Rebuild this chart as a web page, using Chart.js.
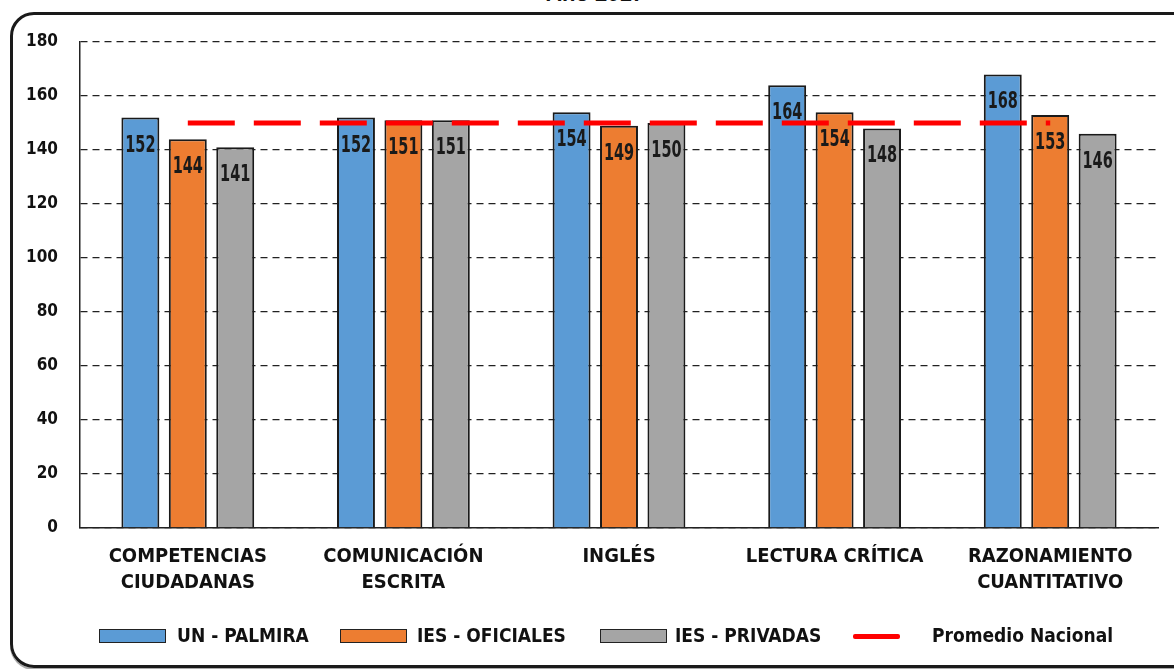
<!DOCTYPE html>
<html>
<head>
<meta charset="utf-8">
<script src="https://cdn.jsdelivr.net/npm/chart.js@4/dist/chart.umd.min.js"></script>
<style>
  body { margin:0; background:#fff; overflow:hidden; }
  #wrap { position:relative; width:1174px; height:669px; overflow:hidden; }
  #frame { position:absolute; left:10px; top:12px; width:1190px; height:650px;
           border:3px solid #1a1a1a; border-radius:24px; box-shadow:0 2px 0 #aaa; }
  #title { position:absolute; left:0; width:1190px; top:-19px; text-align:center;
           font:bold 22px "Liberation Sans", Arial, sans-serif; color:#111; }
  canvas { position:absolute; left:0; top:0; }
  .lg { position:absolute; top:624px; font:bold 19px "DejaVu Sans Condensed", sans-serif; color:#111; white-space:nowrap; line-height:22px; }
  .box { position:absolute; top:629px; width:65px; height:12px; border:1.5px solid #222; }
  .ln { position:absolute; top:634px; width:47px; height:5px; background:#ff0000; border-radius:2px; }
</style>
</head>
<body>
<div id="wrap">
  <div id="frame"></div>
  <div id="title">Año 2017</div>
  <canvas id="c" width="1174" height="669"></canvas>
  <div id="legend"></div>
</div>
<script>
const categories = [
  ["COMPETENCIAS", "CIUDADANAS"],
  ["COMUNICACIÓN", "ESCRITA"],
  ["INGLÉS"],
  ["LECTURA CRÍTICA"],
  ["RAZONAMIENTO", "CUANTITATIVO"]
];
const unPalmira = [152, 152, 154, 164, 168];
const iesOficiales = [144, 151, 149, 154, 153];
const iesPrivadas = [141, 151, 150, 148, 146];
const promedioNacional = [150, 150, 150, 150, 150];
const yTicks = [0, 20, 40, 60, 80, 100, 120, 140, 160, 180];

const FONT = '"DejaVu Sans Condensed", sans-serif';

// values inside the bars, narrow and tall like the original
const barLabels = {
  id: 'barLabels',
  afterDatasetsDraw(chart) {
    const ctx = chart.ctx;
    chart.data.datasets.forEach((ds, i) => {
      if (ds.type === 'line') return;
      chart.getDatasetMeta(i).data.forEach((el, j) => {
        ctx.save();
        ctx.translate(el.x, el.y + 28);
        ctx.scale(0.7, 1);
        ctx.font = 'bold 23px ' + FONT;
        ctx.fillStyle = '#1a1a1a';
        ctx.textAlign = 'center';
        ctx.textBaseline = 'middle';
        ctx.fillText(ds.data[j], 0, 0);
        ctx.restore();
      });
    });
  }
};

const barStyle = { borderColor: '#1a1a1a', borderWidth: 2, barPercentage: 0.8, categoryPercentage: 0.66, order: 1 };

const chart = new Chart(document.getElementById('c'), {
  type: 'bar',
  data: {
    labels: categories,
    datasets: [
      Object.assign({ label: 'UN - PALMIRA', data: unPalmira, backgroundColor: '#5b9bd5' }, barStyle),
      Object.assign({ label: 'IES - OFICIALES', data: iesOficiales, backgroundColor: '#ed7d31' }, barStyle),
      Object.assign({ label: 'IES - PRIVADAS', data: iesPrivadas, backgroundColor: '#a5a5a5' }, barStyle),
      { type: 'line', label: 'Promedio Nacional', data: promedioNacional, borderColor: '#ff0000',
        borderWidth: 5, borderDash: [47, 19], pointRadius: 0, fill: false, order: 0 }
    ]
  },
  options: {
    responsive: false,
    animation: false,
    layout: { padding: { left: 0, right: 16, top: 42, bottom: 0 } },
    plugins: { legend: { display: false }, title: { display: false }, tooltip: { enabled: false } },
    scales: {
      x: {
        grid: { display: false, drawTicks: false },
        border: { display: true, color: '#222', width: 1.5 },
        ticks: { color: '#111', font: { family: FONT, size: 20, weight: 'bold', lineHeight: 1.3 }, padding: 16, maxRotation: 0, autoSkip: false },
        afterFit(s) { s.height = 141; }
      },
      y: {
        min: 0, max: 180,
        afterBuildTicks(s) { s.ticks = yTicks.map(v => ({ value: v })); },
        grid: { color: '#222', lineWidth: 1.3, drawTicks: false },
        border: { display: true, color: '#222', width: 1.5, dash: [7, 5] },
        ticks: { color: '#111', font: { family: FONT, size: 17, weight: 'bold' }, padding: 22 },
        afterFit(s) { s.width = 80; }
      }
    }
  },
  plugins: [barLabels]
});

// legend
const lgPos = [
  { box: 99, text: 177 },
  { box: 340, text: 417 },
  { box: 600, text: 675 },
  { box: 853, text: 932 }
];
const legend = document.getElementById('legend');
chart.data.datasets.forEach((ds, i) => {
  const p = lgPos[i];
  const m = document.createElement('div');
  if (ds.type === 'line') {
    m.className = 'ln';
  } else {
    m.className = 'box';
    m.style.background = ds.backgroundColor;
  }
  m.style.left = p.box + 'px';
  legend.appendChild(m);
  const t = document.createElement('div');
  t.className = 'lg';
  t.style.left = p.text + 'px';
  t.textContent = ds.label;
  legend.appendChild(t);
});
</script>
</body>
</html>
